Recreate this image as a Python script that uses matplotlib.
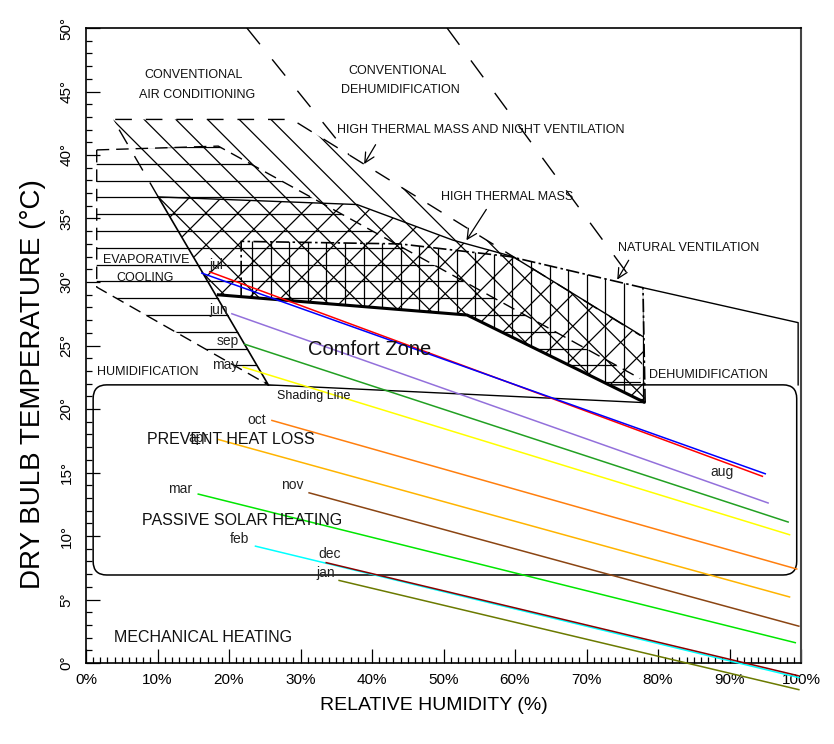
import numpy as np
import matplotlib
matplotlib.use("Agg")
import matplotlib.pyplot as plt
from matplotlib.patches import Polygon, FancyBboxPatch
from matplotlib.lines import Line2D
from matplotlib.ticker import MultipleLocator

plt.rcParams['font.family'] = ['Liberation Sans', 'DejaVu Sans']

# ---------------- data ----------------
months = ['jul', 'aug', 'jun', 'sep', 'may', 'oct', 'apr', 'nov', 'mar', 'feb', 'dec', 'jan']
rh_start = [17.3, 16.2, 20.4, 22.2, 22.0, 26.0, 18.5, 31.2, 15.7, 23.7, 33.6, 35.4]
t_start = [30.8, 30.7, 27.5, 25.1, 23.3, 19.1, 17.6, 13.4, 13.3, 9.2, 7.9, 6.5]
rh_end = [94.6, 95.0, 95.4, 98.2, 98.4, 99.4, 98.4, 99.7, 99.2, 99.7, 99.6, 99.7]
t_end = [14.7, 14.9, 12.6, 11.1, 10.1, 7.4, 5.2, 2.9, 1.6, -1.15, -1.0, -2.1]
month_colors = ['#ff0000', '#0000ff', '#9370db', '#22a022', '#ffff00', '#ff7f0e',
                '#ffb400', '#8b4513', '#00e600', '#00ffff', '#8b0000', '#6b7a00']

# comfort zone
comfort_rh = [18.3, 53.3, 78.2, 25.5]
comfort_t = [29.0, 27.4, 20.5, 21.9]
# high thermal mass (cross hatch)
htm_rh = [10.1, 37.9, 51.3, 59.7, 77.9, 78.2, 53.3, 18.3]
htm_t = [36.7, 36.1, 33.3, 32.0, 25.7, 20.5, 27.4, 29.0]
# high thermal mass with night ventilation
nightvent_rh = [3.8, 28.8, 77.5, 78.2, 25.5, 10.1]
nightvent_t = [42.8, 42.8, 25.8, 20.5, 21.9, 36.7]
# evaporative cooling
evap_rh = [1.5, 18.5, 77.5, 78.2, 25.5, 1.5]
evap_t = [40.4, 40.7, 22.4, 20.5, 21.9, 29.6]
# natural ventilation
natvent_rh = [21.7, 43.9, 59.3, 77.9, 78.2, 53.3, 21.7]
natvent_t = [33.2, 33.0, 32.0, 29.55, 20.5, 27.4, 28.85]
# dehumidification extension outline
dehum_rh = [77.9, 99.6, 99.6]
dehum_t = [29.55, 26.8, 21.9]
# rounded box (passive solar heating / prevent heat loss)
box_rh = [1.0, 99.4]
box_t = [6.93, 21.9]
# conventional limits (long dashed)
d1_rh = [22.5, 36.8]
d1_t = [50.0, 40.0]
d2_rh = [50.5, 77.1]
d2_t = [50.0, 29.6]

x_ticks = list(range(0, 101, 10))
x_ticklabels = [f'{v}%' for v in x_ticks]
y_ticks = list(range(0, 51, 5))
y_ticklabels = [f'{v}°' for v in y_ticks]

# ---------------- figure ----------------
fig = plt.figure(figsize=(8.34, 7.44), dpi=100)
AX_W, AX_H = 715, 635
ax = fig.add_axes([86 / 834, (744 - 663) / 744, AX_W / 834, AX_H / 744])
ax.set_xlim(0, 100)
ax.set_ylim(0, 50)
PX_X = AX_W / 100.0
PX_T = AX_H / 50.0


def region(rh, t):
    p = Polygon(np.column_stack([rh, t]), closed=True, fill=False,
                edgecolor='none', zorder=0)
    ax.add_patch(p)
    return p


def hatch(patch, kind, step, phase, lw=0.8, color='black'):
    ks = np.arange(-120, 120)
    cs = phase + step * ks
    for c in cs:
        if kind == '-':
            if c < -5 or c > AX_H + 5:
                continue
            X = [0, AX_W]; Y = [c, c]
        elif kind == '|':
            if c < -5 or c > AX_W + 5:
                continue
            X = [c, c]; Y = [0, AX_H]
        elif kind == '\\':
            if c < -5 or c > AX_W + AX_H + 5:
                continue
            X = [c + 50, c - AX_H - 50]; Y = [-50, AX_H + 50]
        else:
            if c < -AX_H - 5 or c > AX_W + 5:
                continue
            X = [c - 50, c + AX_H + 50]; Y = [-50, AX_H + 50]
        ln = Line2D(np.array(X) / PX_X, np.array(Y) / PX_T, lw=lw, color=color, zorder=1)
        ax.add_line(ln)
        ln.set_clip_path(patch)


p_evap = region(evap_rh, evap_t)
p_night = region(nightvent_rh, nightvent_t)
p_htm = region(htm_rh, htm_t)
p_nat = region(natvent_rh, natvent_t)

hatch(p_evap, '-', 16.8, 499.1, lw=0.9)
hatch(p_night, '\\', 31.7, 570.0, lw=0.9)
hatch(p_htm, '/', 32.0, -394.0, lw=0.9)
hatch(p_nat, '|', 18.6, 166.0, lw=0.9)

# outlines
dash_a = (0, (9, 5))
dash_b = (0, (12, 10))
# evaporative cooling outline (dashed)
ax.plot(evap_rh[:3], evap_t[:3], color='k', lw=1.0, ls=dash_a, zorder=2)
ax.plot([evap_rh[0], evap_rh[5], evap_rh[4]], [evap_t[0], evap_t[5], evap_t[4]],
        color='k', lw=1.0, ls=dash_a, zorder=2)
# night ventilation outline
ax.plot([nightvent_rh[5], nightvent_rh[0], nightvent_rh[1], nightvent_rh[2]],
        [nightvent_t[5], nightvent_t[0], nightvent_t[1], nightvent_t[2]],
        color='k', lw=1.0, ls=dash_b, zorder=2)
# high thermal mass outline (solid)
ax.plot(htm_rh[:5], htm_t[:5], color='k', lw=1.0, zorder=2)
# natural ventilation outline (dash-dot)
ax.plot([natvent_rh[6], natvent_rh[0], natvent_rh[1], natvent_rh[2], natvent_rh[3], natvent_rh[4]],
        [natvent_t[6], natvent_t[0], natvent_t[1], natvent_t[2], natvent_t[3], natvent_t[4]],
        color='k', lw=1.2, ls=(0, (8, 2, 1.5, 2)), zorder=2)
ax.plot(dehum_rh, dehum_t, color='k', lw=1.0, zorder=2)
# long dashed limits
ax.plot(d1_rh, d1_t, color='k', lw=1.0, ls=(0, (15, 14)), zorder=2)
ax.plot(d2_rh, d2_t, color='k', lw=1.0, ls=(0, (15, 14)), zorder=2)

# rounded box
box = FancyBboxPatch((box_rh[0], box_t[0]), box_rh[1] - box_rh[0], box_t[1] - box_t[0],
                     boxstyle='round,pad=0,rounding_size=1.9', mutation_aspect=PX_X / PX_T,
                     fill=False, edgecolor='black', lw=1.1, zorder=2)
ax.add_patch(box)

# comfort zone
cz = Polygon(np.column_stack([comfort_rh, comfort_t]), closed=True, facecolor='white',
             edgecolor='none', zorder=3)
ax.add_patch(cz)
ax.plot(comfort_rh[:3], comfort_t[:3], color='k', lw=2.2, zorder=3.5, solid_capstyle='butt')
ax.plot([comfort_rh[2], comfort_rh[3]], [comfort_t[2], comfort_t[3]], color='k', lw=1.0, zorder=3.5)
ax.plot([htm_rh[0], comfort_rh[3]], [htm_t[0], comfort_t[3]], color='k', lw=1.2, zorder=3.5)

# month lines
label_offsets = [(7, 7), (-43, 2), (-13, 4), (-17, 3), (-18, 2), (-15, 0),
                 (-20, 1), (-17, 8), (-18, 5), (-16, 7), (3, 9), (-13, 7)]
for i, m in enumerate(months):
    ax.plot([rh_start[i], rh_end[i]], [t_start[i], t_end[i]], color=month_colors[i],
            lw=1.1, zorder=4, clip_on=False)
    if m == 'aug':
        anchor = (rh_end[i], t_end[i])
    else:
        anchor = (rh_start[i], t_start[i])
    ax.annotate(m, xy=anchor, xytext=label_offsets[i], textcoords='offset pixels',
                ha='center', va='center', fontsize=10, color='#222222', zorder=5)

# arrows
arrow_specs = [((40.7, 41.0), (38.7, 39.1)), ((56.2, 35.9), (53.0, 33.1)), ((76.1, 31.9), (74.1, 30.0))]
for tail, head in arrow_specs:
    ax.annotate('', xy=head, xytext=tail,
                arrowprops=dict(arrowstyle='->,head_length=0.7,head_width=0.35', lw=0.9, color='k'),
                zorder=5)

# region labels
txt = [
    ('CONVENTIONAL', 15.1, 46.3, 9), ('AIR CONDITIONING', 15.5, 44.7, 9),
    ('CONVENTIONAL', 43.6, 46.6, 9), ('DEHUMIDIFICATION', 43.9, 45.1, 9),
    ('HIGH THERMAL MASS AND NIGHT VENTILATION', 55.2, 42.0, 9),
    ('HIGH THERMAL MASS', 58.9, 36.7, 9),
    ('NATURAL VENTILATION', 84.3, 32.65, 9),
    ('EVAPORATIVE', 8.4, 31.7, 9), ('COOLING', 8.2, 30.3, 9),
    ('HUMIDIFICATION', 8.7, 22.9, 9),
    ('DEHUMIDIFICATION', 87.1, 22.7, 9),
    ('Comfort Zone', 39.6, 24.65, 14.5),
    ('Shading Line', 31.9, 21.0, 9),
    ('PREVENT HEAT LOSS', 20.25, 17.56, 11.5),
    ('PASSIVE SOLAR HEATING', 21.8, 11.2, 11.5),
    ('MECHANICAL HEATING', 16.4, 2.02, 11.5),
]
for s, x, y, fs in txt:
    ax.text(x, y, s, ha='center', va='center', fontsize=fs, color='#111111', zorder=6)

# axes styling
ax.set_xticks(x_ticks)
ax.set_xticklabels(x_ticklabels, fontsize=11)
ax.set_yticks(y_ticks)
ax.set_yticklabels(y_ticklabels, fontsize=11, rotation=90, va='center')
ax.xaxis.set_minor_locator(MultipleLocator(1))
ax.yaxis.set_minor_locator(MultipleLocator(1))
ax.tick_params(which='major', direction='in', length=10, width=0.9, pad=7)
ax.tick_params(which='minor', direction='in', length=4.5, width=0.9)
ax.tick_params(axis='y', which='major', pad=9)
for side in ['left', 'bottom', 'top']:
    ax.spines[side].set_linewidth(1.2)
ax.spines['right'].set_linewidth(1.5)
ax.spines['right'].set_color('#444444')

fig.text(33 / 834, 1 - 384 / 744, 'DRY BULB TEMPERATURE (°C)', rotation=90,
         ha='center', va='center', fontsize=20)
fig.text(434 / 834, 1 - 706 / 744, 'RELATIVE HUMIDITY (%)', ha='center', va='center', fontsize=14)

fig.savefig('out.png', dpi=100)
